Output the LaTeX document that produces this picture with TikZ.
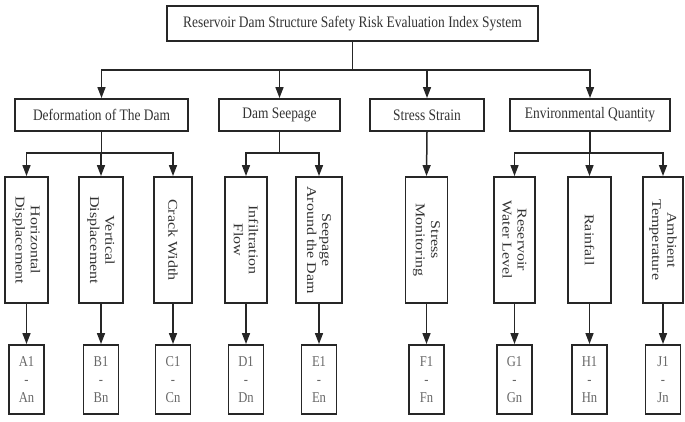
\documentclass[tikz,border=0pt]{standalone}
\usepackage{fontspec}
\setmainfont{Liberation Serif}
\newfontfamily\narrowfont[FakeStretch=0.84]{Liberation Serif}
\usetikzlibrary{arrows.meta}

\begin{document}
\begin{tikzpicture}[x=1pt, y=-1pt]
\tikzset{box/.style={draw=black!85, line width=1.9pt, inner sep=0pt, text=black!80},
    hbox/.style={box, minimum width=#1, minimum height=32pt,
        font=\narrowfont\fontsize{16}{18}\selectfont},
    vbox/.style={box, rotate=-90, yscale=0.84, minimum width=126pt,
        minimum height={#1/0.84*1pt}, align=center, font=\fontsize{16}{18}\selectfont},
    vbox/.default=43,
    ibox/.style={box, minimum width=35pt, minimum height=69pt, align=center,
        text=black!60, font=\narrowfont\fontsize{15}{18}\selectfont},
    link/.style={draw=black!85, line width=1.5pt},
    arr/.style={link, -{Triangle[length=11pt, width=8pt]}}}

\useasboundingbox (0,0) rectangle (685,421);

\node[hbox=371pt, minimum height=35pt] (top) at (352.5,23.5)
    {Reservoir Dam Structure Safety Risk Evaluation Index System};

% first level
\node[hbox=173pt] (deform) at (101.5,115) {Deformation of The Dam};
\node[hbox=121pt] (seep)   at (279.5,115) {Dam Seepage};
\node[hbox=114pt] (stress) at (427,115)   {Stress Strain};
\node[hbox=160pt] (env)    at (590,115)   {Environmental Quantity};

% second level (vertical text)
\node[vbox=43] (hdisp)  at (26.5,240)  {Horizontal\\Displacement};
\node[vbox=44] (vdisp)  at (101,240)   {Vertical\\Displacement};
\node[vbox=38] (crack)  at (173,240)   {Crack Width};
\node[vbox=42] (infl)   at (246,240)   {Infiltration\\Flow};
\node[vbox=46] (around) at (319,240)   {Seepage\\Around the Dam};
\node[vbox=42] (smon)   at (426.5,240) {Stress\\Monitoring};
\node[vbox=41] (rlevel) at (514.5,240) {Reservoir\\Water Level};
\node[vbox=43] (rain)   at (589.5,240) {Rainfall};
\node[vbox=40] (atemp)  at (663,240)   {Ambient\\Temperature};

% index boxes
\node[ibox] (ia) at (26.5,379.5)  {A1\\-\\An};
\node[ibox] (ib) at (101,379.5)   {B1\\-\\Bn};
\node[ibox] (ic) at (173,379.5)   {C1\\-\\Cn};
\node[ibox] (id) at (246,379.5)   {D1\\-\\Dn};
\node[ibox] (ie) at (319,379.5)   {E1\\-\\En};
\node[ibox] (if) at (426.5,379.5) {F1\\-\\Fn};
\node[ibox] (ig) at (514.5,379.5) {G1\\-\\Gn};
\node[ibox] (ih) at (589.5,379.5) {H1\\-\\Hn};
\node[ibox] (ij) at (663,379.5)   {J1\\-\\Jn};

% connectors
\coordinate (bus0) at (352.5,70);
\draw[link] (top.south) -- (bus0);
\foreach \n in {deform,seep,stress,env}
    \draw[arr] (bus0) -| (\n.north);

\coordinate (busd) at (101.5,153);
\draw[link] (deform.south) -- (busd);
\foreach \n in {hdisp,vdisp,crack}
    \draw[arr] (busd) -| (\n.west);

\coordinate (buss) at (279.5,153);
\draw[link] (seep.south) -- (buss);
\foreach \n in {infl,around}
    \draw[arr] (buss) -| (\n.west);

\draw[arr] (stress.south) -- (smon.west);

\coordinate (buse) at (590,153);
\draw[link] (env.south) -- (buse);
\foreach \n in {rlevel,rain,atemp}
    \draw[arr] (buse) -| (\n.west);

\foreach \m/\i in {hdisp/ia,vdisp/ib,crack/ic,infl/id,around/ie,smon/if,rlevel/ig,rain/ih,atemp/ij}
    \draw[arr] (\m.east) -- (\i.north);

\end{tikzpicture}
\end{document}
